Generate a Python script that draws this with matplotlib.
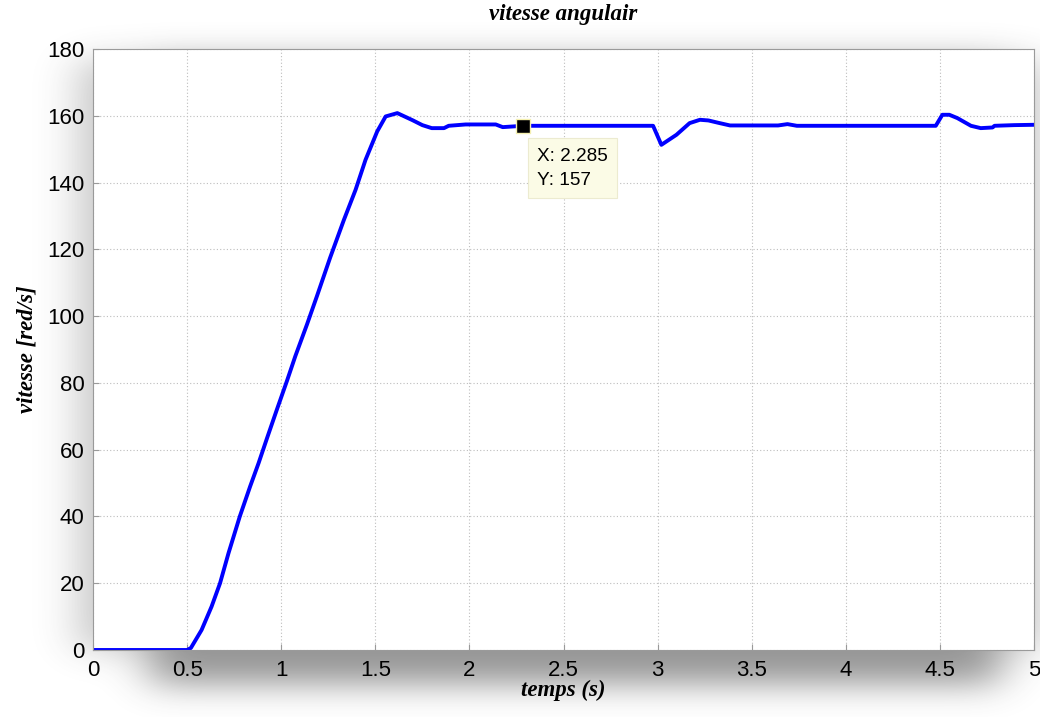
import numpy as np
import matplotlib
matplotlib.use("Agg")
import matplotlib.pyplot as plt

# ---- data ----
t = [0, 0.5, 0.52, 0.577, 0.63, 0.675, 0.72, 0.78, 0.835, 0.88, 0.925, 0.977,
     1.03, 1.075, 1.137, 1.19, 1.26, 1.333, 1.395, 1.448, 1.51, 1.555, 1.617,
     1.697, 1.75, 1.80, 1.865, 1.89, 1.98, 2.14, 2.177, 2.285, 2.976, 3.02,
     3.10, 3.17, 3.225, 3.27, 3.33, 3.385, 3.64, 3.69, 3.74, 4.478, 4.513,
     4.55, 4.593, 4.665, 4.717, 4.78, 4.79, 4.895, 5.0]
v = [0, 0, 0.6, 6, 13, 20, 29, 40, 49, 56, 63.5, 72,
     80.5, 88, 97.5, 106, 117.5, 128.8, 137.8, 146.8, 155.3, 159.8, 160.8,
     158.7, 157.2, 156.3, 156.3, 157, 157.4, 157.4, 156.6, 157, 157, 151.3,
     154.3, 157.8, 158.8, 158.6, 157.8, 157.1, 157.1, 157.5, 157, 157, 160.3,
     160.3, 159.3, 157, 156.3, 156.5, 157, 157.2, 157.3]
tip_x = 2.285
tip_y = 157
xticks = [0, 0.5, 1, 1.5, 2, 2.5, 3, 3.5, 4, 4.5, 5]
xticklabels = ["0", "0.5", "1", "1.5", "2", "2.5", "3", "3.5", "4", "4.5", "5"]
yticks = [0, 20, 40, 60, 80, 100, 120, 140, 160, 180]
title = "vitesse angulair"
xlabel = "temps (s)"
ylabel = "vitesse [red/s]"

W, H = 1040, 717
fig = plt.figure(figsize=(W / 100, H / 100), dpi=100, facecolor="white")

# ---- soft drop shadow behind the axes ----
def blur1d(a, sigma, axis):
    r = int(3 * sigma)
    k = np.exp(-0.5 * (np.arange(-r, r + 1) / sigma) ** 2)
    k /= k.sum()
    return np.apply_along_axis(lambda m: np.convolve(m, k, mode="same"), axis, a)

mask = np.zeros((H, W))
mask[60:684, 150:1000] = 1.0
mask[60:650, 80:1045] = np.maximum(mask[60:650, 80:1045], 0.55)
sh = blur1d(blur1d(mask, 16, 0), 22, 1)
rgba = np.zeros((H, W, 4))
rgba[..., :3] = 0.25
rgba[..., 3] = 0.55 * sh
bg = fig.add_axes([0, 0, 1, 1], zorder=-5)
bg.imshow(rgba, extent=[0, 1, 0, 1], aspect="auto", interpolation="bilinear")
bg.set_axis_off()

# ---- main axes ----
L, R, B, T = 93 / W, 1034 / W, 1 - 650 / H, 1 - 49 / H
ax = fig.add_axes([L, B, R - L, T - B])
ax.set_facecolor("white")
ax.plot(t, v, color="#0000ff", lw=2.8, solid_joinstyle="round", solid_capstyle="round")
ax.set_xlim(0, 5)
ax.set_ylim(0, 180)
ax.set_xticks(xticks)
ax.set_xticklabels(xticklabels)
ax.set_yticks(yticks)
ax.grid(True, linestyle=(0, (1, 2)), color="#bdbdbd", lw=0.8)
for s in ax.spines.values():
    s.set_color("#9a9a9a")
    s.set_linewidth(0.8)
ax.tick_params(direction="in", length=4, color="#9a9a9a", labelsize=16)
ax.tick_params(axis="x", pad=7)
ax.tick_params(axis="y", pad=6)
for lab in ax.get_xticklabels() + ax.get_yticklabels():
    lab.set_fontfamily("Liberation Sans")

fs = dict(family="Liberation Serif", weight="bold", style="italic", size=16.5)
ax.set_title(title, pad=21, **fs)
ax.set_xlabel(xlabel, labelpad=-1, **fs)
ax.set_ylabel(ylabel, labelpad=7, **fs)

# ---- data tip ----
ax.plot([tip_x], [tip_y], marker="s", ms=10.5, mfc="black", mec="#f5f0b0", mew=1.0, zorder=5)
ax.annotate(f"X: {tip_x}\nY: {tip_y}", xy=(tip_x, tip_y), xytext=(14, -22),
            textcoords="offset pixels", ha="left", va="top",
            family="Liberation Sans", size=13.7, linespacing=1.55,
            bbox=dict(boxstyle="square,pad=0.5", fc="#fbfbe6", ec="#ecebd0", lw=0.8),
            zorder=6)

fig.savefig("out.png", dpi=100, facecolor="white")
